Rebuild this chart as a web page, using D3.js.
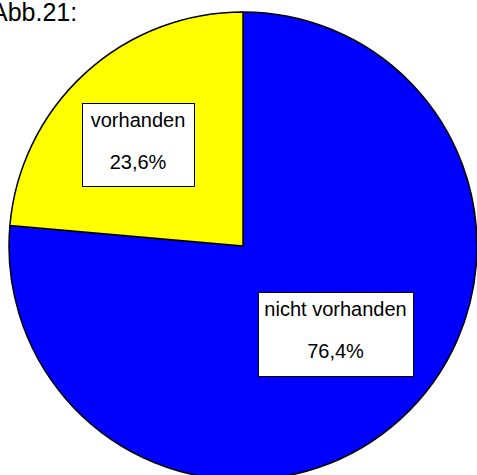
<!DOCTYPE html>
<html>
<head>
<meta charset="utf-8">
<script src="https://cdn.jsdelivr.net/npm/d3@7"></script>
<style>
  body { margin: 0; background: #fff; }
  svg { display: block; font-family: Arial, "Liberation Sans", sans-serif; }
</style>
</head>
<body>
<div id="chart"></div>
<script>
// Data
const categories = ["nicht vorhanden", "vorhanden"];
const values = [76.4, 23.6];
const valueLabels = ["76,4%", "23,6%"];
const colors = ["#0000FF", "#FFFF00"];
const title = "Abb.21:";

const width = 477;
const height = 475;
const cx = 243;
const cy = 246;
const radius = 234;

const svg = d3.select("#chart")
  .append("svg")
  .attr("width", width)
  .attr("height", height);

// Title (cut at the left edge, as in the original)
svg.append("text")
  .attr("x", -9)
  .attr("y", 21)
  .attr("font-size", 25)
  .attr("fill", "#000")
  .text(title);

// Pie
const pie = d3.pie().sort(null).value((d) => d);
const arc = d3.arc().innerRadius(0).outerRadius(radius);

const g = svg.append("g").attr("transform", `translate(${cx},${cy})`);

g.selectAll("path")
  .data(pie(values))
  .join("path")
  .attr("d", arc)
  .attr("fill", (d, i) => colors[i])
  .attr("stroke", "#000")
  .attr("stroke-width", 1.5)
  .attr("stroke-linejoin", "round");

// Label boxes
const boxes = [
  { x: 258, y: 292, w: 155, h: 84 },
  { x: 82, y: 103, w: 112, h: 83 }
];

boxes.forEach((b, i) => {
  const lg = svg.append("g");
  lg.append("rect")
    .attr("x", b.x + 0.5)
    .attr("y", b.y + 0.5)
    .attr("width", b.w)
    .attr("height", b.h)
    .attr("fill", "#fff")
    .attr("stroke", "#000")
    .attr("stroke-width", 1);
  lg.append("text")
    .attr("x", b.x + b.w / 2)
    .attr("y", b.y + 24)
    .attr("text-anchor", "middle")
    .attr("font-size", 20)
    .text(categories[i]);
  lg.append("text")
    .attr("x", b.x + b.w / 2)
    .attr("y", b.y + 66)
    .attr("text-anchor", "middle")
    .attr("font-size", 20)
    .text(valueLabels[i]);
});
</script>
</body>
</html>
